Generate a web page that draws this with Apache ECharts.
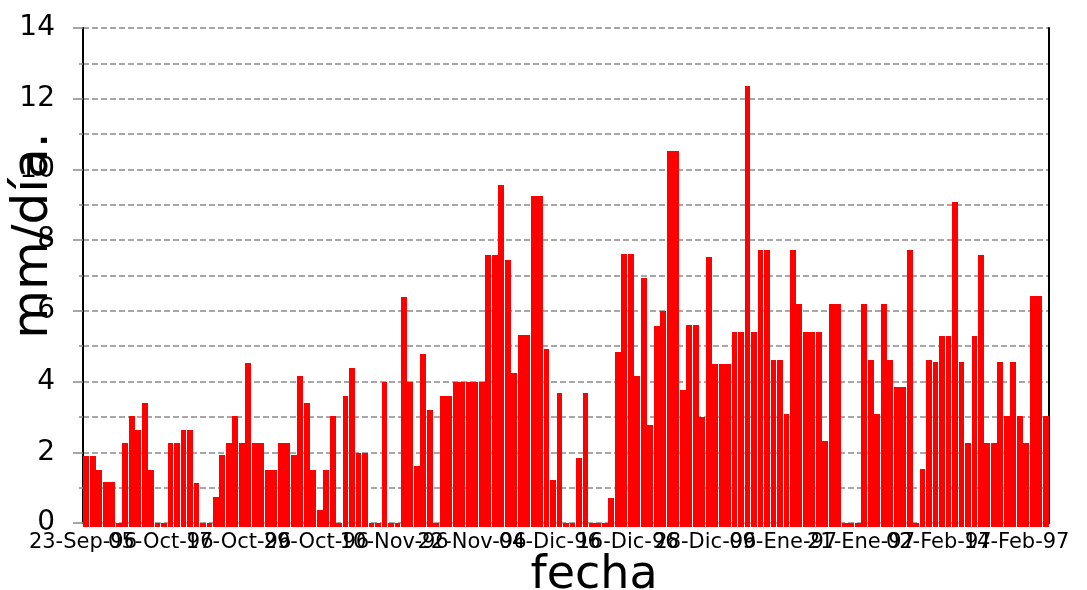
<!DOCTYPE html>
<html><head><meta charset="utf-8">
<script src="https://cdn.jsdelivr.net/npm/echarts@6/dist/echarts.min.js"></script>
<style>html,body{margin:0;padding:0;background:#fff}#c{width:1087px;height:590px}</style>
</head><body><div id="c"></div>
<script>
// daily series: 23-Sep-96 .. 18-Feb-97
const startDate = [1996, 8, 23];
const dayCount = 149;
const monthNames = ['Ene','Feb','Mar','Abr','May','Jun','Jul','Ago','Sep','Oct','Nov','Dic'];
const labelEvery = 12;
const yTicks = [0, 2, 4, 6, 8, 10, 12, 14];
const yTitle = 'mm/día.';
const xTitle = 'fecha';

const rainfall = [
  1.9, 1.9, 1.5, 1.15, 1.15, 0, 2.27, 3.03, 2.63, 3.4,
  1.5, 0, 0, 2.27, 2.27, 2.63, 2.63, 1.14, 0, 0,
  0.74, 1.91, 2.27, 3.03, 2.27, 4.53, 2.27, 2.27, 1.5, 1.5,
  2.27, 2.27, 1.91, 4.16, 3.4, 1.5, 0.37, 1.5, 3.03, 0,
  3.6, 4.39, 1.98, 1.98, 0, 0, 4.0, 0, 0, 6.4,
  4.0, 1.61, 4.79, 3.2, 0, 3.6, 3.6, 4.0, 4.0, 4.0,
  4.0, 4.0, 7.59, 7.59, 9.57, 7.45, 4.25, 5.33, 5.33, 9.26,
  9.26, 4.93, 1.22, 3.68, 0, 0, 1.84, 3.68, 0, 0,
  0, 0.72, 4.85, 7.62, 7.62, 4.17, 6.94, 2.78, 5.56, 6.01,
  10.51, 10.51, 3.75, 5.61, 5.61, 3.01, 7.51, 4.51, 4.51, 4.51,
  5.39, 5.39, 12.35, 5.39, 7.71, 7.71, 4.62, 4.62, 3.09, 7.71,
  6.18, 5.39, 5.39, 5.39, 2.33, 6.18, 6.18, 0, 0, 0,
  6.18, 4.62, 3.09, 6.18, 4.62, 3.86, 3.86, 7.71, 0, 1.54,
  4.62, 4.54, 5.3, 5.3, 9.09, 4.54, 2.27, 5.3, 7.57, 2.27,
  2.27, 4.54, 3.04, 4.54, 3.04, 2.27, 6.43, 6.43, 3.04
];

const categories = [];
for (let i = 0; i < dayCount; i++) {
  const d = new Date(Date.UTC(startDate[0], startDate[1], startDate[2] + i));
  const dd = String(d.getUTCDate()).padStart(2, '0');
  const yy = String(d.getUTCFullYear()).slice(2);
  categories.push(dd + '-' + monthNames[d.getUTCMonth()] + '-' + yy);
}

const chart = echarts.init(document.getElementById('c'), null, {renderer: 'canvas'});
const gridStyle = {color: '#8a8a8a', width: 1.5, type: [6, 3]};
chart.setOption({
  animation: false,
  backgroundColor: '#fff',
  textStyle: {fontFamily: 'DejaVu Sans'},
  grid: {left: 83, right: 38, top: 28, bottom: 67, containLabel: false, outerBoundsMode: 'none'},
  xAxis: {
    type: 'category',
    data: categories,
    boundaryGap: true,
    axisLine: {show: false},
    axisTick: {show: false},
    axisLabel: {
      interval: 0,
      formatter: function (value, index) { return index % labelEvery === 0 ? value : ''; },
      color: '#000',
      fontSize: 21,
      fontFamily: 'DejaVu Sans',
      margin: 9,
      padding: [0, 6.5, 0, 0],
      hideOverlap: false
    },
    name: xTitle,
    nameLocation: 'middle',
    nameGap: 30,
    nameMoveOverlap: false,
    nameTextStyle: {fontSize: 46, color: '#000', fontFamily: 'DejaVu Sans', padding: [0, 0, 0, 56]}
  },
  yAxis: [{
    type: 'value',
    min: yTicks[0],
    max: yTicks[yTicks.length - 1],
    interval: 2,
    axisLine: {show: true, lineStyle: {color: '#000', width: 2}},
    axisTick: {show: true, length: 10, lineStyle: {color: '#8a8a8a', width: 1.5}},
    minorTick: {show: true, splitNumber: 2, length: 4, lineStyle: {color: '#8a8a8a', width: 1.5}},
    splitLine: {show: true, lineStyle: gridStyle},
    minorSplitLine: {show: true, lineStyle: gridStyle},
    axisLabel: {color: '#000', fontSize: 28, fontFamily: 'DejaVu Sans', margin: 28},
    name: yTitle,
    nameLocation: 'middle',
    nameRotate: 90,
    nameGap: 24,
    nameMoveOverlap: false,
    nameTextStyle: {fontSize: 50, color: '#000', fontFamily: 'DejaVu Sans', padding: [0, 0, 0, 80]}
  }, {
    type: 'value',
    position: 'right',
    min: yTicks[0],
    max: yTicks[yTicks.length - 1],
    axisLine: {show: true, lineStyle: {color: '#000', width: 2}},
    axisTick: {show: false},
    axisLabel: {show: false},
    splitLine: {show: false}
  }],
  series: [{
    type: 'custom',
    clip: false,
    data: rainfall.map((v, i) => [i, v]),
    encode: {x: 0, y: 1},
    renderItem: function (params, api) {
      const top = api.coord([api.value(0), api.value(1)]);
      const base = api.coord([api.value(0), 0]);
      const w = api.size([1, 0])[0];
      const l = Math.round(top[0] - w * 0.45);
      const r = Math.round(top[0] + w * 0.45);
      const t = Math.round(top[1]);
      const b = Math.round(base[1]) + 4;
      return {type: 'rect', shape: {x: l, y: t, width: r - l, height: b - t}, style: {fill: '#ff0000'}};
    }
  }]
});
</script>
</body></html>
